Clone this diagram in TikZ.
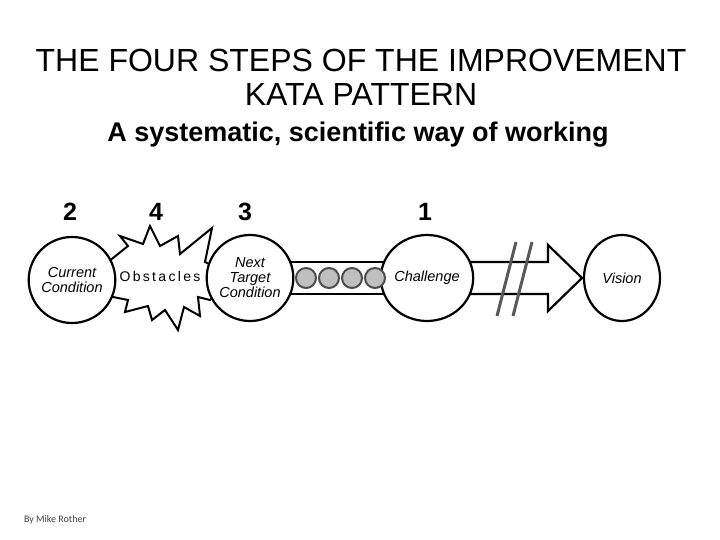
\documentclass[tikz,border=0pt]{standalone}
\usepackage{fontspec}
\usetikzlibrary{shapes.geometric}
\setmainfont{Liberation Sans}
\newfontfamily\carl{Carlito}
\begin{document}
\begin{tikzpicture}[x=1pt,y=-1pt,
  oval/.style={draw,line width=2.2pt,fill=white,ellipse,minimum width=78pt,minimum height=86pt,inner sep=0pt,align=center,font=\fontsize{14.5}{15}\selectfont\itshape},
  num/.style={font=\fontsize{25}{25}\selectfont\bfseries},
  bead/.style={circle,draw=black!70,line width=2pt,fill=black!25,minimum size=20pt,inner sep=0pt},
  slash/.style={draw=black!65,line width=3pt}]
\useasboundingbox (0,0) rectangle (720,540);
\node (t1) at (361,60) {\fontsize{32}{32}\selectfont THE FOUR STEPS OF THE IMPROVEMENT};
\node (t2) at (361,94) {\fontsize{32}{32}\selectfont KATA PATTERN};
\node (sub) at (358,135) {\fontsize{27}{27}\selectfont\bfseries A systematic, scientific way of working};
\node[num] (n2) at (70,212) {2};
\node[num] (n4) at (156,212) {4};
\node[num] (n3) at (245,212) {3};
\node[num] (n1) at (425,212) {1};
% starburst
\draw[line width=2pt,fill=white] (108,262) -- (128,246) -- (120,236) -- (143,244) -- (150,226) -- (160,246) -- (178,236) -- (180,254) -- (212,228) -- (205,262) -- (218,268)
 -- (218,292) -- (210,300) -- (198,297) -- (200,316) -- (184,307) -- (178,330) -- (165,310) -- (152,320) -- (148,306) -- (125,312) -- (128,300) -- (108,296) -- cycle;
\node[font=\fontsize{14}{14}\selectfont] (obs) at (160,276) {O\,b\,s\,t\,a\,c\,l\,e\,s};
% bar and arrow
\draw[line width=2.2pt,fill=white] (250,262) rectangle (427,294);
\draw[line width=2.2pt,fill=white] (427,262) -- (548,262) -- (548,245) -- (582,278) -- (548,311) -- (548,294) -- (427,294) -- cycle;
\node[oval] (cur) at (72,280) {Current\\Condition};
\node[oval] (ntc) at (250,278) {Next\\Target\\Condition};
\node[oval] (chal) at (427,278) {Challenge};
\node[oval,minimum width=76pt] (vis) at (622,278) {Vision};
\foreach \i/\x in {1/306,2/329,3/352,4/375} \node[bead] (b\i) at (\x,278) {};
\coordinate (s1a) at (497,316); \coordinate (s1b) at (516,242);
\coordinate (s2a) at (513,316); \coordinate (s2b) at (532,242);
\draw[slash] (s1a) -- (s1b);
\draw[slash] (s2a) -- (s2b);
\node[font=\carl\fontsize{10}{10}\selectfont,text=black!75] (by) at (55,520) {By Mike Rother};
\end{tikzpicture}
\end{document}
